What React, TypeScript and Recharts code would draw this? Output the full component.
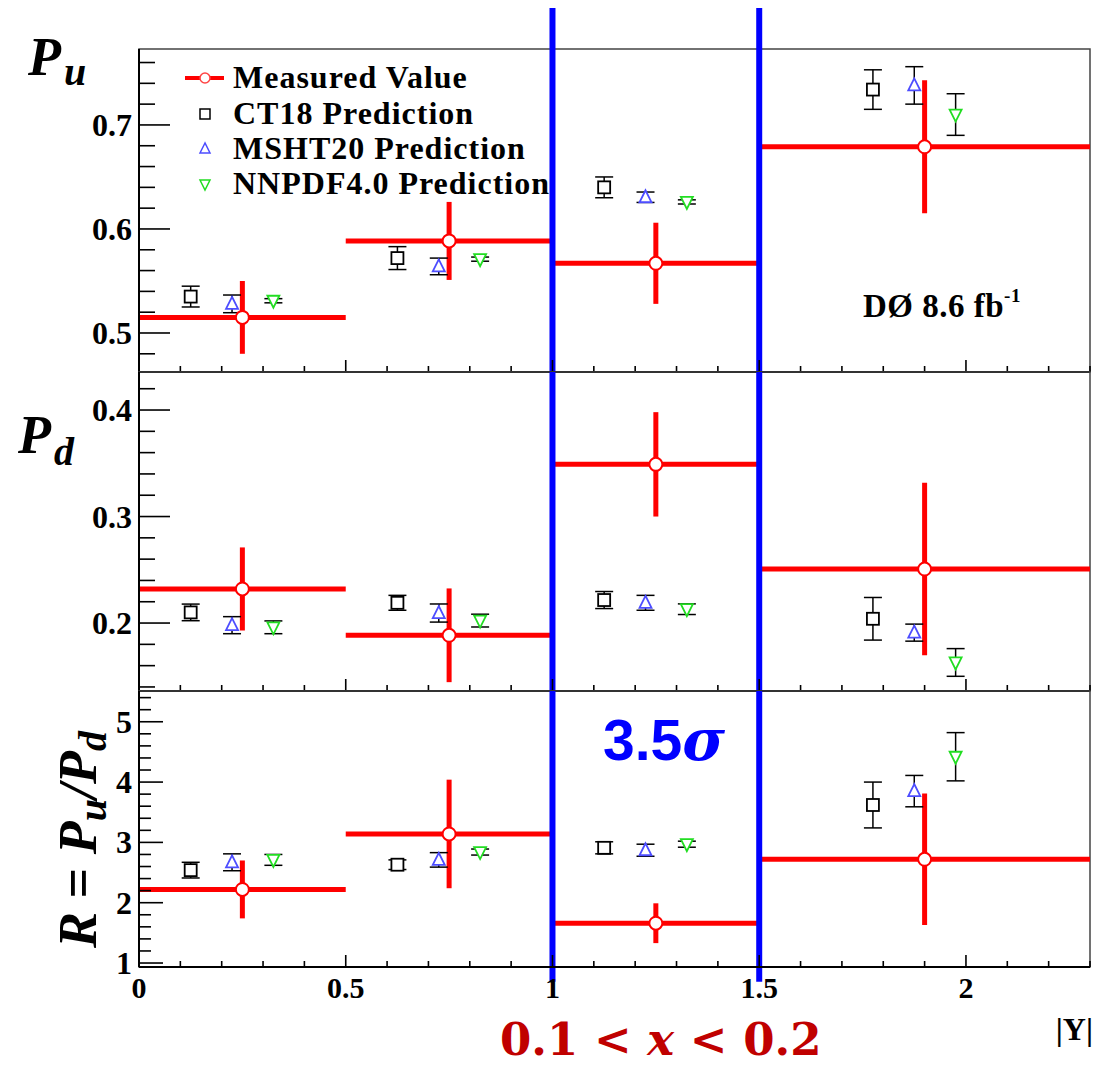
import React from "react";
import {
  ComposedChart,
  Scatter,
  XAxis,
  YAxis,
  ErrorBar,
  ReferenceLine,
  ReferenceArea,
} from "recharts";

// bin centres in |Y| for each series (predictions are offset inside each bin)
const measX = [0.25, 0.75, 1.25, 1.9];
const measXErr = [0.25, 0.25, 0.25, 0.4];
const ct18X = [0.125, 0.625, 1.125, 1.775];
const mshtX = [0.225, 0.725, 1.225, 1.875];
const nnpdfX = [0.325, 0.825, 1.325, 1.975];

// P_u
const puMeas = [0.515, 0.5885, 0.567, 0.679];
const puMeasErr = [0.035, 0.0375, 0.039, 0.064];
const puCT18 = [0.535, 0.572, 0.64, 0.734];
const puCT18Err = [0.01, 0.011, 0.01, 0.019];
const puMSHT = [0.528, 0.564, 0.6305, 0.738];
const puMSHTErr = [0.0085, 0.008, 0.005, 0.018];
const puNNPDF = [0.531, 0.571, 0.626, 0.71];
const puNNPDFErr = [0.002, 0.002, 0.002, 0.02];

// P_d
const pdMeas = [0.232, 0.1885, 0.349, 0.2507];
const pdMeasErr = [0.039, 0.044, 0.049, 0.081];
const pdCT18 = [0.21, 0.219, 0.2216, 0.204];
const pdCT18Err = [0.0078, 0.007, 0.008, 0.02];
const pdMSHT = [0.198, 0.2094, 0.219, 0.191];
const pdMSHTErr = [0.008, 0.0085, 0.007, 0.008];
const pdNNPDF = [0.196, 0.2023, 0.213, 0.163];
const pdNNPDFErr = [0.006, 0.006, 0.005, 0.013];

// R = P_u / P_d
const rMeas = [2.22, 3.14, 1.66, 2.72];
const rMeasErr = [0.48, 0.9, 0.33, 1.09];
const rCT18 = [2.54, 2.63, 2.91, 3.62];
const rCT18Err = [0.13, 0.08, 0.1, 0.38];
const rMSHT = [2.67, 2.71, 2.87, 3.85];
const rMSHTErr = [0.14, 0.12, 0.1, 0.26];
const rNNPDF = [2.71, 2.84, 2.97, 4.42];
const rNNPDFErr = [0.09, 0.05, 0.05, 0.4];

const xLabels = [0, 0.5, 1, 1.5, 2];
const puLabels = [0.5, 0.6, 0.7];
const pdLabels = [0.2, 0.3, 0.4];
const rLabels = [1, 2, 3, 4, 5];
const splitLines = [1, 1.5];

const W = 1097;
const H = 1067;
const AXIS_W = 60;
const AXIS_H = 40;
const SERIF = "'Liberation Serif', 'Times New Roman', serif";

const steps = (a: number, b: number, s: number) => {
  const out: number[] = [];
  for (let v = a; v <= b + 1e-9; v += s) out.push(Math.round(v * 1000) / 1000);
  return out;
};

const pts = (xs: number[], ys: number[], es: number[]) =>
  xs.map((x, i) => ({ x, y: ys[i], err: es[i] }));
const measPts = (ys: number[], es: number[]) =>
  measX.map((x, i) => ({ x, y: ys[i], xerr: measXErr[i], yerr: es[i] }));

const isIn = (v: number, list: number[]) => list.some((l) => Math.abs(l - v) < 1e-6);

const Square = (p: any) => (
  <rect x={p.cx - 6} y={p.cy - 6} width={12} height={12} fill="#fff" stroke="#000" strokeWidth={1.8} />
);
const TriUp = (p: any) => (
  <polygon
    points={`${p.cx},${p.cy - 7} ${p.cx - 6},${p.cy + 5} ${p.cx + 6},${p.cy + 5}`}
    fill="#fff"
    stroke="#4d4dff"
    strokeWidth={1.8}
  />
);
const TriDown = (p: any) => (
  <polygon
    points={`${p.cx - 6},${p.cy - 5} ${p.cx + 6},${p.cy - 5} ${p.cx},${p.cy + 7}`}
    fill="#fff"
    stroke="#22dd22"
    strokeWidth={1.8}
  />
);
const OpenCircle = (p: any) => (
  <circle cx={p.cx} cy={p.cy} r={6.5} fill="#fff" stroke="#ff0000" strokeWidth={2} />
);

interface PanelProps {
  top: number;
  bottom: number;
  domain: [number, number];
  yTicks: number[];
  yLabels: number[];
  majorLen: number;
  minorLen: number;
  meas: number[];
  measErr: number[];
  ct18: number[];
  ct18Err: number[];
  msht: number[];
  mshtErr: number[];
  nnpdf: number[];
  nnpdfErr: number[];
  showX?: boolean;
  lineFrom: number;
  lineTo: number;
}

function Panel(p: PanelProps) {
  const yTick = (props: any) => {
    const v = props.payload.value;
    const major = isIn(v, p.yLabels);
    return (
      <g>
        <line x1={props.x} x2={props.x + (major ? p.majorLen : p.minorLen)} y1={props.y} y2={props.y} stroke="#000" strokeWidth={1.6} />
        {major && (
          <text x={props.x - 7} y={props.y + 11} textAnchor="end" fontFamily={SERIF} fontWeight="bold" fontSize={32} fill="#000">
            {v}
          </text>
        )}
      </g>
    );
  };
  const xTick = (props: any) => {
    const v = props.payload.value;
    const major = isIn(v, xLabels);
    return (
      <g>
        <line x1={props.x} x2={props.x} y1={props.y} y2={props.y - (major ? 12 : 6)} stroke="#000" strokeWidth={1.6} />
        {p.showX && major && (
          <text x={props.x} y={props.y + 31} textAnchor="middle" fontFamily={SERIF} fontWeight="bold" fontSize={30} fill="#000">
            {v}
          </text>
        )}
      </g>
    );
  };
  return (
    <div style={{ position: "absolute", left: 0, top: 0 }}>
      <ComposedChart
        width={W}
        height={H}
        margin={{ top: p.top, bottom: H - p.bottom - AXIS_H, left: 139 - AXIS_W, right: 7 }}
      >
        <XAxis
          type="number"
          dataKey="x"
          domain={[0, 2.3]}
          allowDataOverflow
          ticks={steps(0, 2.3, 0.1)}
          interval={0}
          height={AXIS_H}
          tickSize={0}
          tickMargin={0}
          tick={xTick}
          axisLine={{ stroke: "#000", strokeWidth: 2 }}
        />
        <YAxis
          type="number"
          dataKey="y"
          domain={p.domain}
          allowDataOverflow
          ticks={p.yTicks}
          interval={0}
          width={AXIS_W}
          tickSize={0}
          tickMargin={0}
          tick={yTick}
          axisLine={{ stroke: "#000", strokeWidth: 2 }}
        />
        <ReferenceArea x1={0} x2={2.3} y1={p.domain[0]} y2={p.domain[1]} fill="none" stroke="#444" strokeWidth={1.5} />
        <Scatter data={measPts(p.meas, p.measErr)} shape={OpenCircle} isAnimationActive={false}>
          <ErrorBar dataKey="xerr" direction="x" width={0} stroke="#ff0000" strokeWidth={5} />
          <ErrorBar dataKey="yerr" direction="y" width={0} stroke="#ff0000" strokeWidth={5} />
        </Scatter>
        <Scatter data={pts(ct18X, p.ct18, p.ct18Err)} shape={Square} isAnimationActive={false}>
          <ErrorBar dataKey="err" direction="y" width={9} stroke="#000" strokeWidth={1.5} />
        </Scatter>
        <Scatter data={pts(mshtX, p.msht, p.mshtErr)} shape={TriUp} isAnimationActive={false}>
          <ErrorBar dataKey="err" direction="y" width={9} stroke="#000" strokeWidth={1.5} />
        </Scatter>
        <Scatter data={pts(nnpdfX, p.nnpdf, p.nnpdfErr)} shape={TriDown} isAnimationActive={false}>
          <ErrorBar dataKey="err" direction="y" width={9} stroke="#000" strokeWidth={1.5} />
        </Scatter>
        {splitLines.map((x) => (
          <ReferenceLine
            key={x}
            segment={[
              { x, y: p.lineFrom },
              { x, y: p.lineTo },
            ]}
            ifOverflow="visible"
            stroke="#0000ff"
            strokeWidth={6}
          />
        ))}
      </ComposedChart>
    </div>
  );
}

function Overlay() {
  const legend = [
    { label: "Measured Value", kind: "meas" },
    { label: "CT18 Prediction", kind: "ct18" },
    { label: "MSHT20 Prediction", kind: "msht" },
    { label: "NNPDF4.0 Prediction", kind: "nnpdf" },
  ];
  const rows = [78, 114, 149, 184];
  return (
    <svg width={W} height={H} style={{ position: "absolute", left: 0, top: 0 }}>
      <rect width={W} height={H} fill="#fff" />
      {legend.map((l, i) => {
        const cy = rows[i];
        const cx = 205;
        return (
          <g key={l.label}>
            {l.kind === "meas" && (
              <>
                <line x1={185} x2={224} y1={cy} y2={cy} stroke="#ff0000" strokeWidth={4} />
                <circle cx={cx} cy={cy} r={5} fill="#fff" stroke="#ff4444" strokeWidth={1.5} />
              </>
            )}
            {l.kind === "ct18" && <rect x={cx - 5} y={cy - 5} width={10} height={10} fill="none" stroke="#000" strokeWidth={1.5} />}
            {l.kind === "msht" && (
              <polygon points={`${cx},${cy - 6} ${cx - 5},${cy + 4} ${cx + 5},${cy + 4}`} fill="none" stroke="#4d4dff" strokeWidth={1.5} />
            )}
            {l.kind === "nnpdf" && (
              <polygon points={`${cx - 5},${cy - 4} ${cx + 5},${cy - 4} ${cx},${cy + 6}`} fill="none" stroke="#22dd22" strokeWidth={1.5} />
            )}
            <text x={233} y={cy + 10} fontFamily={SERIF} fontWeight="bold" fontSize={32} letterSpacing={1} fill="#000">
              {l.label}
            </text>
          </g>
        );
      })}
      <text x={863} y={317} fontFamily={SERIF} fontWeight="bold" fontSize={33} letterSpacing={0.5} fill="#000">
        DØ 8.6 fb<tspan fontSize={19} dy={-15}>-1</tspan>
      </text>
      <text x={28} y={75} fontFamily={SERIF} fontWeight="bold" fontStyle="italic" fontSize={54} fill="#000">
        P<tspan fontSize={40} dx={3} dy={10}>u</tspan>
      </text>
      <text x={18} y={453} fontFamily={SERIF} fontWeight="bold" fontStyle="italic" fontSize={54} fill="#000">
        P<tspan fontSize={40} dx={3} dy={12}>d</tspan>
      </text>
      <text
        transform="translate(96,948) rotate(-90)"
        fontFamily={SERIF}
        fontWeight="bold"
        fontSize={54}
        fill="#000"
      >
        <tspan fontStyle="italic">R</tspan> = <tspan fontStyle="italic">P</tspan>
        <tspan fontStyle="italic" fontSize={40} dy={10}>u</tspan>
        <tspan fontStyle="italic" dy={-10}>/P</tspan>
        <tspan fontStyle="italic" fontSize={40} dy={10}>d</tspan>
      </text>
      <text x={603} y={760} fontFamily="'Liberation Sans', Arial, sans-serif" fontWeight="bold" fontSize={57} fill="#0000ff">
        3.5<tspan fontStyle="italic" fontFamily="'DejaVu Serif', serif" fontSize={58}>σ</tspan>
      </text>
      <text x={500} y={1055} fontFamily="'DejaVu Serif', serif" fontWeight="bold" fontSize={45} fill="#c00000">
        0.1 &lt; <tspan fontStyle="italic">x</tspan> &lt; 0.2
      </text>
      <text x={1093} y={1040} textAnchor="end" fontFamily={SERIF} fontWeight="bold" fontSize={32} fill="#000">
        |Y|
      </text>
    </svg>
  );
}

export default function App() {
  return (
    <div style={{ position: "absolute", left: 0, top: 0, width: W, height: H, background: "#fff", overflow: "hidden" }}>
      <Overlay />
      <Panel
        top={49}
        bottom={372}
        domain={[0.4625, 0.773]}
        yTicks={steps(0.48, 0.76, 0.02)}
        yLabels={puLabels}
        majorLen={31}
        minorLen={16}
        meas={puMeas}
        measErr={puMeasErr}
        ct18={puCT18}
        ct18Err={puCT18Err}
        msht={puMSHT}
        mshtErr={puMSHTErr}
        nnpdf={puNNPDF}
        nnpdfErr={puNNPDFErr}
        lineFrom={0.4625}
        lineTo={0.8125}
      />
      <Panel
        top={372}
        bottom={691}
        domain={[0.1362, 0.4357]}
        yTicks={steps(0.14, 0.42, 0.02)}
        yLabels={pdLabels}
        majorLen={31}
        minorLen={16}
        meas={pdMeas}
        measErr={pdMeasErr}
        ct18={pdCT18}
        ct18Err={pdCT18Err}
        msht={pdMSHT}
        mshtErr={pdMSHTErr}
        nnpdf={pdNNPDF}
        nnpdfErr={pdNNPDFErr}
        lineFrom={0.1362}
        lineTo={0.4357}
      />
      <Panel
        top={691}
        bottom={967}
        domain={[0.934, 5.51]}
        yTicks={steps(1, 5.4, 0.2)}
        yLabels={rLabels}
        majorLen={24}
        minorLen={12}
        meas={rMeas}
        measErr={rMeasErr}
        ct18={rCT18}
        ct18Err={rCT18Err}
        msht={rMSHT}
        mshtErr={rMSHTErr}
        nnpdf={rNNPDF}
        nnpdfErr={rNNPDFErr}
        showX
        lineFrom={0.69}
        lineTo={5.51}
      />
    </div>
  );
}
